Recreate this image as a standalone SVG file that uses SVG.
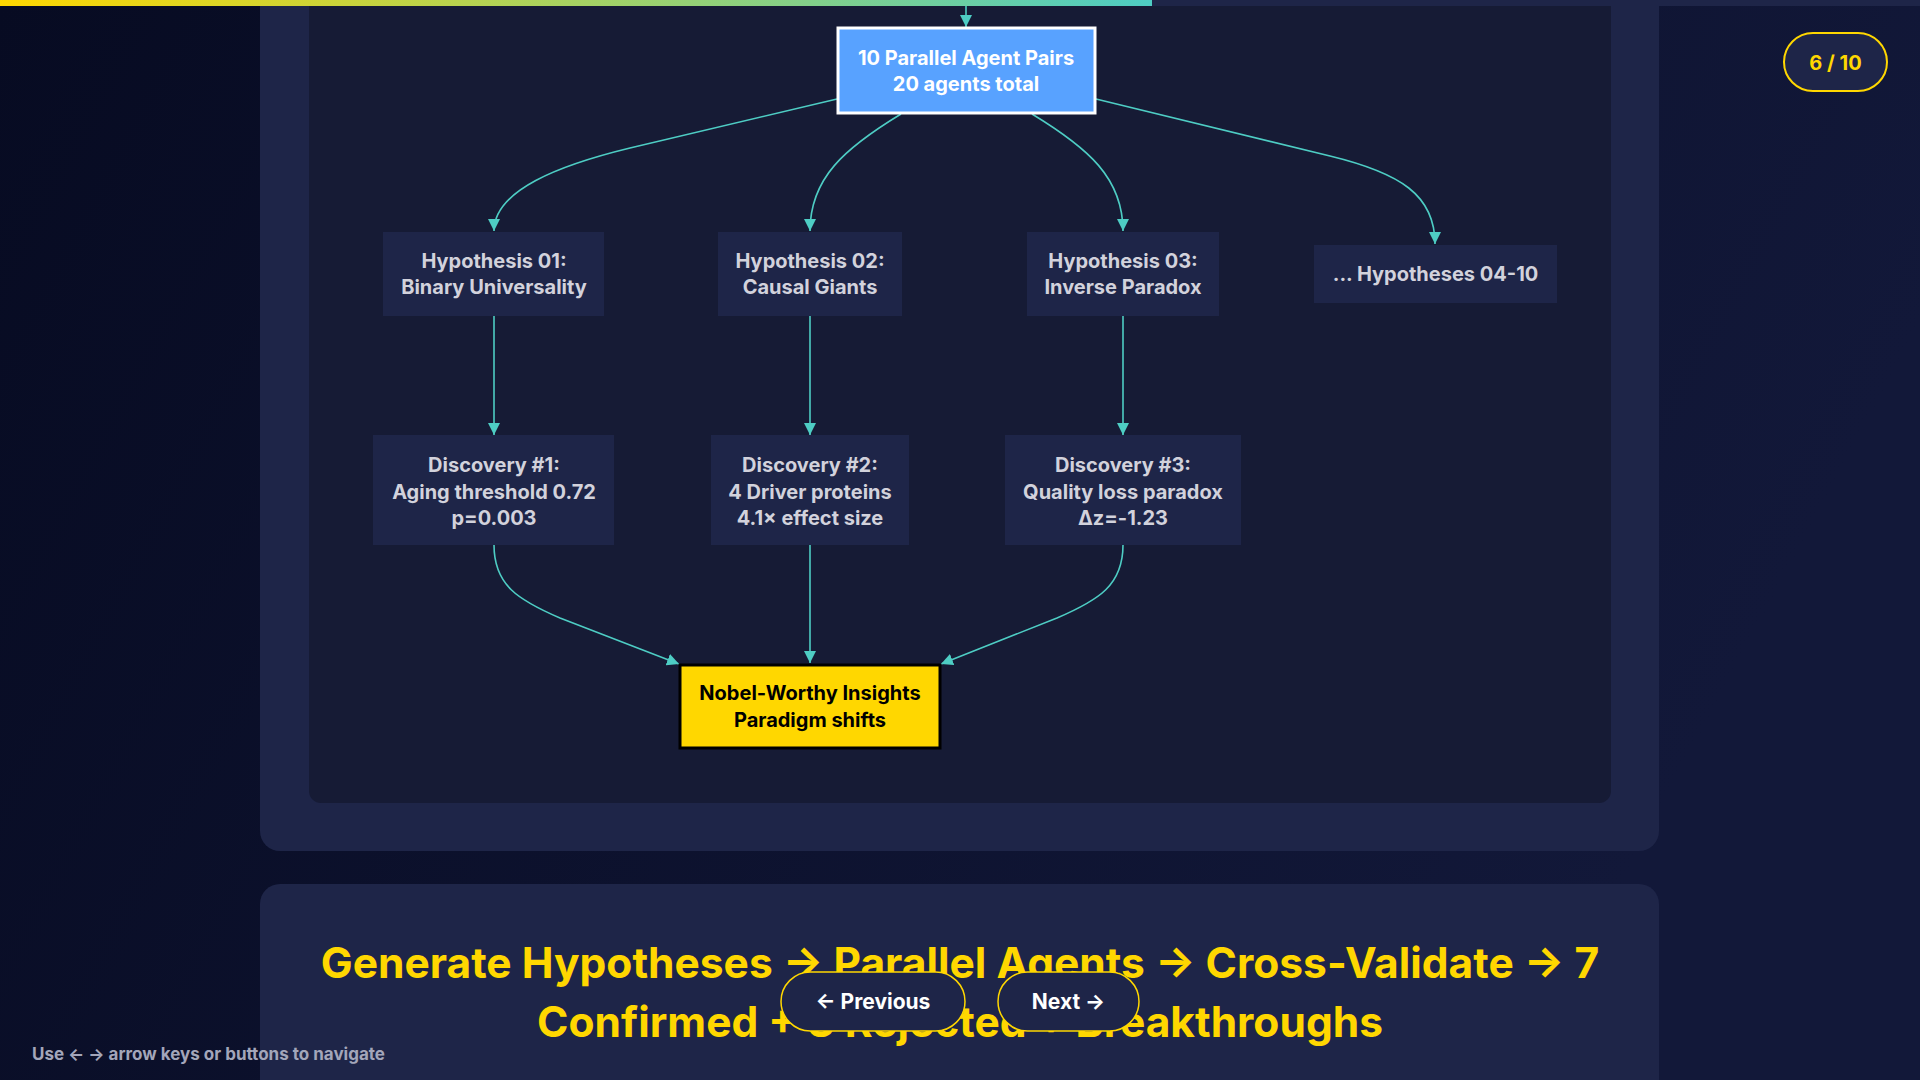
<svg xmlns="http://www.w3.org/2000/svg" width="1920" height="1080" viewBox="0 0 1920 1080">
  <defs>
    <linearGradient id="bg" x1="0" y1="0" x2="1" y2="0.3">
      <stop offset="0" stop-color="#070b22"/>
      <stop offset="1" stop-color="#121839"/>
    </linearGradient>
    <linearGradient id="prog" x1="0" y1="0" x2="1" y2="0">
      <stop offset="0" stop-color="#ffd700"/>
      <stop offset="1" stop-color="#4ecdc4"/>
    </linearGradient>
    <marker id="arr" markerUnits="userSpaceOnUse" markerWidth="12" markerHeight="12" viewBox="0 0 10 10" refX="10" refY="5" orient="auto">
      <path d="M0,0 L10,5 L0,10 Z" fill="#4ecdc4"/>
    </marker>
    <style>
      .edge { fill: none; stroke: #4ecdc4; stroke-width: 1.6; marker-end: url(#arr); }
      .node { fill: #1e2548; }
      .ntxt { font-family: Inter, "Liberation Sans", sans-serif; font-size: 20px; font-weight: 700; fill: #d2d2dc; text-anchor: middle; }
      .wtxt { font-family: Inter, "Liberation Sans", sans-serif; font-size: 20px; font-weight: 700; fill: #ffffff; text-anchor: middle; }
      .btxt { font-family: Inter, "Liberation Sans", sans-serif; font-size: 20px; font-weight: 700; fill: #000000; text-anchor: middle; }
      .big { font-family: Inter, "Liberation Sans", sans-serif; font-size: 42.5px; font-weight: 700; fill: #ffd700; text-anchor: middle; }
      .btn { fill: #1e2548; stroke: #ffd700; stroke-width: 1.5; }
      .btnt { font-family: Inter, "Liberation Sans", sans-serif; font-size: 21px; font-weight: 700; fill: #ffffff; text-anchor: middle; }
    </style>
  </defs>

  <rect width="1920" height="1080" fill="url(#bg)"/>

  <!-- outer panel -->
  <rect x="260" y="-40" width="1399" height="891" rx="20" fill="#1e2548"/>
  <rect x="309" y="-20" width="1302" height="823" rx="12" fill="#161b35"/>

  <!-- progress bar -->
  <rect x="0" y="0" width="1920" height="6" fill="#1e2548"/>
  <rect x="0" y="0" width="1152" height="6" fill="url(#prog)"/>

  <!-- connectors -->
  <g id="connectors">
    <path class="edge" d="M966,6 L966,27"/>
    <path class="edge" d="M837,99 L630,148 C560,165 494,190 494,231"/>
    <path class="edge" d="M901,114 C845,148 810,178 810,231"/>
    <path class="edge" d="M1032,114 C1088,148 1123,178 1123,231"/>
    <path class="edge" d="M1096,99 L1330,156 C1400,173 1435,195 1435,244"/>
    <path class="edge" d="M494,316 L494,435"/>
    <path class="edge" d="M810,316 L810,435"/>
    <path class="edge" d="M1123,316 L1123,435"/>
    <path class="edge" d="M494,545 C494,585 518,600 560,618 L679,664"/>
    <path class="edge" d="M810,545 L810,663"/>
    <path class="edge" d="M1123,545 C1123,585 1099,600 1057,618 L941,664"/>
  </g>

  <!-- top node -->
  <g id="node-agents">
    <rect x="838" y="28" width="257" height="85" fill="#58a2ff" stroke="#ffffff" stroke-width="3"/>
    <text class="wtxt" x="966" y="65">10 Parallel Agent Pairs</text>
    <text class="wtxt" x="966" y="91">20 agents total</text>
  </g>

  <g id="node-h01">
    <rect class="node" x="383" y="232" width="221" height="84"/>
    <text class="ntxt" x="494" y="268">Hypothesis 01:</text>
    <text class="ntxt" x="494" y="294">Binary Universality</text>
  </g>
  <g id="node-h02">
    <rect class="node" x="718" y="232" width="184" height="84"/>
    <text class="ntxt" x="810" y="268">Hypothesis 02:</text>
    <text class="ntxt" x="810" y="294">Causal Giants</text>
  </g>
  <g id="node-h03">
    <rect class="node" x="1027" y="232" width="192" height="84"/>
    <text class="ntxt" x="1123" y="268">Hypothesis 03:</text>
    <text class="ntxt" x="1123" y="294">Inverse Paradox</text>
  </g>
  <g id="node-h04">
    <rect class="node" x="1314" y="245" width="243" height="58"/>
    <text class="ntxt" x="1435.5" y="281">... Hypotheses 04-10</text>
  </g>

  <g id="node-d1">
    <rect class="node" x="373" y="435" width="241" height="110"/>
    <text class="ntxt" x="494" y="472">Discovery #1:</text>
    <text class="ntxt" x="494" y="498.5">Aging threshold 0.72</text>
    <text class="ntxt" x="494" y="525">p=0.003</text>
  </g>
  <g id="node-d2">
    <rect class="node" x="711" y="435" width="198" height="110"/>
    <text class="ntxt" x="810" y="472">Discovery #2:</text>
    <text class="ntxt" x="810" y="498.5">4 Driver proteins</text>
    <text class="ntxt" x="810" y="525">4.1× effect size</text>
  </g>
  <g id="node-d3">
    <rect class="node" x="1005" y="435" width="236" height="110"/>
    <text class="ntxt" x="1123" y="472">Discovery #3:</text>
    <text class="ntxt" x="1123" y="498.5">Quality loss paradox</text>
    <text class="ntxt" x="1123" y="525">Δz=-1.23</text>
  </g>

  <g id="node-nobel">
    <rect x="680" y="665" width="260" height="83" fill="#ffd700" stroke="#000000" stroke-width="3"/>
    <text class="btxt" x="810" y="700">Nobel-Worthy Insights</text>
    <text class="btxt" x="810" y="727">Paradigm shifts</text>
  </g>

  <!-- counter -->
  <g id="counter">
    <rect x="1784" y="33" width="103" height="58" rx="29" fill="#1e2548" stroke="#ffd700" stroke-width="2"/>
    <text x="1835.5" y="69.5" font-family="Inter, 'Liberation Sans', sans-serif" font-size="20" font-weight="700" fill="#ffd700" text-anchor="middle">6 / 10</text>
  </g>

  <!-- bottom panel -->
  <g id="summary">
    <rect x="260" y="884" width="1399" height="240" rx="20" fill="#1e2548"/>
    <text class="big" x="960" y="978">Generate Hypotheses → Parallel Agents → Cross-Validate → 7</text>
    <text class="big" x="960" y="1037">Confirmed + 3 Rejected + Breakthroughs</text>
  </g>

  <!-- nav buttons -->
  <g id="btn-prev">
    <rect class="btn" x="781" y="972" width="184" height="59" rx="29.5"/>
    <text class="btnt" x="873" y="1009">← Previous</text>
  </g>
  <g id="btn-next">
    <rect class="btn" x="998" y="972" width="141" height="59" rx="29.5"/>
    <text class="btnt" x="1068.5" y="1009">Next →</text>
  </g>

  <text x="32" y="1060" font-family="Inter, 'Liberation Sans', sans-serif" font-size="17" font-weight="700" fill="#a3a6ba">Use ← → arrow keys or buttons to navigate</text>
</svg>
